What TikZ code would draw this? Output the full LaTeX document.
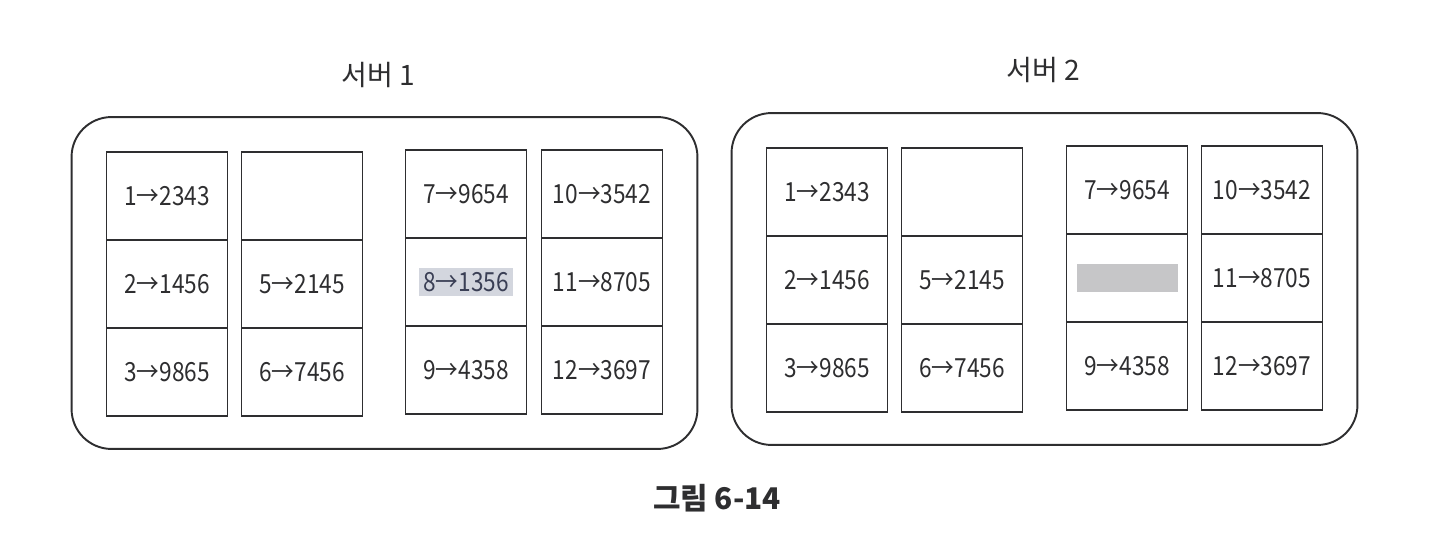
\documentclass[tikz,border=0pt]{standalone}
\usepackage{fontspec}
\setmainfont{Noto Sans CJK KR}
\newfontfamily\cellfont[FakeStretch=0.86]{Noto Sans CJK KR}
\usetikzlibrary{fit}
\definecolor{ink}{HTML}{2E2E30}
\definecolor{hilite}{HTML}{D3D6DE}
\definecolor{hiink}{HTML}{3A3F55}
\definecolor{blank}{HTML}{C6C6C8}
\tikzset{
  cell/.style={draw=ink, line width=1.1pt, minimum width=2.42cm, minimum height=1.76cm, inner sep=0pt, text=ink, font=\cellfont\fontsize{15}{17}\selectfont},
  server/.style={draw=ink, line width=1.1pt, rounded corners=0.8cm, inner sep=0.68cm},
  title/.style={text=ink, font=\fontsize{16}{18}\selectfont}
}
\begin{document}
\begin{tikzpicture}[x=0.02cm, y=-0.02cm]
		\useasboundingbox (0,0) rectangle (1440,557);
		% server 1
		\node[cell] (a1) at (167,196) {1→2343};
		\node[cell] (a2) at (167,284) {2→1456};
		\node[cell] (a3) at (167,372) {3→9865};
		\node[cell] (b1) at (302,196) {};
		\node[cell] (b2) at (302,284) {5→2145};
		\node[cell] (b3) at (302,372) {6→7456};
		\node[cell] (c1) at (466,194) {7→9654};
		\node[cell] (c2) at (466,282) {};
		\node[cell] (c3) at (466,370) {9→4358};
		\node[cell] (d1) at (602,194) {10→3542};
		\node[cell] (d2) at (602,282) {11→8705};
		\node[cell] (d3) at (602,370) {12→3697};
		\node[fill=hilite, text=hiink, inner sep=2.5pt, font=\cellfont\fontsize{15}{17}\selectfont] (k8) at (c2) {8→1356};
		\node[server, fit=(a1)(d3)] (s1) {};
		\node[title] (t1) at (378,75) {서버 1};
		% server 2
		\node[cell] (e1) at (827,192) {1→2343};
		\node[cell] (e2) at (827,280) {2→1456};
		\node[cell] (e3) at (827,368) {3→9865};
		\node[cell] (f1) at (962,192) {};
		\node[cell] (f2) at (962,280) {5→2145};
		\node[cell] (f3) at (962,368) {6→7456};
		\node[cell] (g1) at (1127,190) {7→9654};
		\node[cell] (g2) at (1127,278) {};
		\node[cell] (g3) at (1127,366) {9→4358};
		\node[cell] (h1) at (1262,190) {10→3542};
		\node[cell] (h2) at (1262,278) {11→8705};
		\node[cell] (h3) at (1262,366) {12→3697};
		\node[fill=blank, minimum width=2.02cm, minimum height=0.58cm, inner sep=0pt] (x8) at (g2) {};
		\node[server, fit=(e1)(h3)] (s2) {};
		\node[title] (t2) at (1043,70) {서버 2};
		% caption
		\node[text=ink, font=\bfseries\fontsize{17}{19}\selectfont] (cap) at (717,498) {그림 6-14};
\end{tikzpicture}
\end{document}
